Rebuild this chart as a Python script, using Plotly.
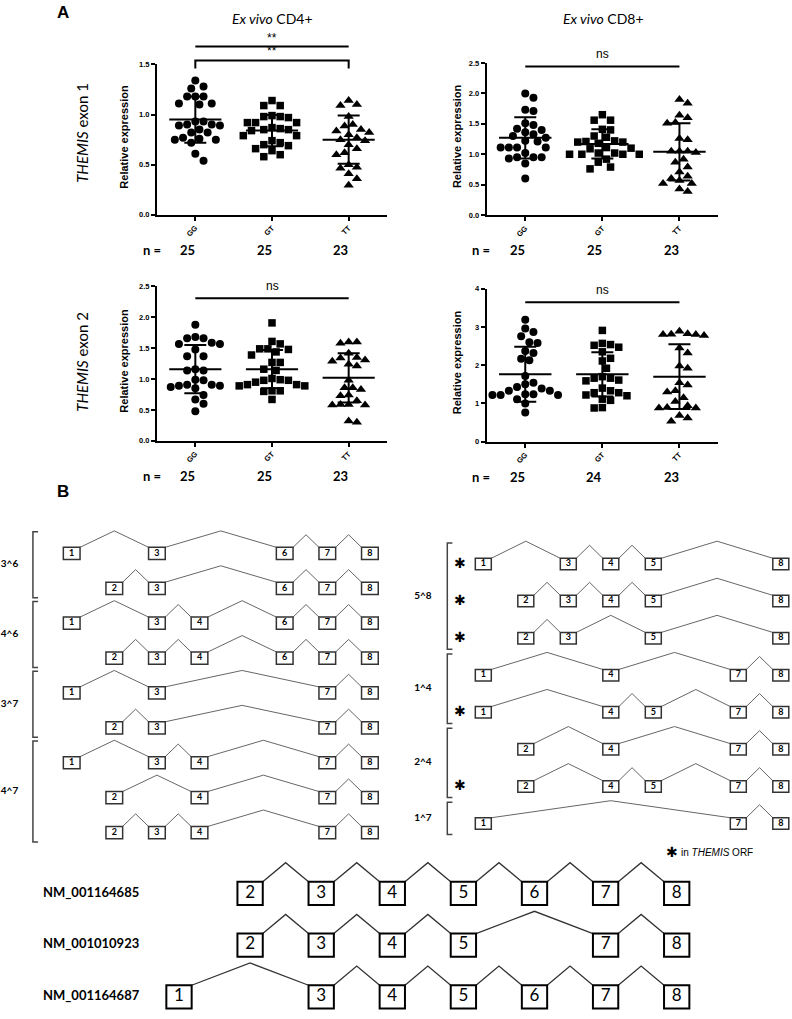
import numpy as np
import plotly.graph_objects as go

W, H = 792, 1019

# ---------------- DATA ----------------
genotypes = ["GG", "GT", "TT"]

cd4_ex1_GG = [1.34, 1.26, 1.28, 1.18, 1.18, 1.18, 1.11, 1.10, 1.11, 0.93, 0.90, 0.93, 0.89,
              0.90, 0.89, 0.82, 0.82, 0.85, 0.77, 0.75, 0.76, 0.72, 0.75, 0.61, 0.54]
cd4_ex1_GT = [1.14, 1.09, 1.09, 0.98, 0.97, 0.98, 0.99, 0.92, 0.92, 0.92, 0.87, 0.85, 0.85,
              0.84, 0.86, 0.79, 0.79, 0.74, 0.72, 0.70, 0.69, 0.66, 0.64, 0.58, 0.60]
cd4_ex1_TT = [1.14, 1.10, 1.09, 0.98, 0.90, 0.885, 0.835, 0.82, 0.85, 0.80, 0.75, 0.74,
              0.70, 0.77, 0.62, 0.60, 0.66, 0.475, 0.465, 0.50, 0.41, 0.36, 0.295]
cd4_ex1_mean = [0.95, 0.84, 0.75]
cd4_ex1_sd = [0.23, 0.155, 0.24]
cd4_ex1_n = [25, 25, 23]

cd8_ex1_GG = [2.00, 1.93, 1.71, 1.73, 1.51, 1.48, 1.40, 1.42, 1.36, 1.33, 1.30, 1.22, 1.21,
              1.11, 1.11, 1.11, 1.11, 0.95, 0.95, 0.93, 0.95, 0.85, 0.60, 1.27, 1.02]
cd8_ex1_GT = [1.65, 1.56, 1.56, 1.40, 1.41, 1.30, 1.28, 1.22, 1.20, 1.18, 1.20, 1.21, 1.11,
              1.09, 1.10, 1.02, 1.00, 1.00, 1.00, 1.00, 1.02, 0.92, 0.87, 0.76, 0.79]
cd8_ex1_TT = [1.90, 1.84, 1.64, 1.60, 1.52, 1.51, 1.26, 1.24, 1.05, 1.05, 1.03, 1.05, 0.92,
              0.79, 0.87, 0.64, 0.71, 0.60, 0.57, 0.52, 0.52, 0.39, 0.43]
cd8_ex1_mean = [1.27, 1.17, 1.04]
cd8_ex1_sd = [0.34, 0.24, 0.47]
cd8_ex1_n = [25, 25, 23]

cd4_ex2_GG = [1.88, 1.68, 1.66, 1.66, 1.59, 1.57, 1.57, 1.48, 1.37, 1.37, 1.14, 1.14, 1.16,
              0.98, 0.99, 0.91, 0.89, 0.87, 0.89, 0.91, 0.85, 0.74, 0.67, 0.60, 0.48]
cd4_ex2_GT = [1.91, 1.61, 1.57, 1.49, 1.44, 1.48, 1.49, 1.39, 1.27, 1.27, 1.14, 1.16, 0.98,
              0.99, 1.01, 0.98, 0.91, 0.89, 0.89, 0.91, 0.81, 0.80, 0.81, 0.67, 0.95]
cd4_ex2_TT = [1.60, 1.58, 1.60, 1.34, 1.29, 1.42, 1.31, 1.35, 1.21, 1.24, 0.98, 0.83, 0.86,
              0.86, 0.73, 0.74, 0.65, 0.58, 0.58, 0.59, 0.59, 0.30, 0.32]
cd4_ex2_mean = [1.16, 1.16, 1.02]
cd4_ex2_sd = [0.39, 0.31, 0.40]
cd4_ex2_n = [25, 25, 23]

cd8_ex2_GG = [3.19, 2.96, 2.87, 2.76, 2.60, 2.58, 2.32, 2.37, 2.13, 2.17, 1.72, 1.54, 1.50,
              1.43, 1.39, 1.33, 1.33, 1.24, 1.22, 1.22, 1.24, 1.22, 1.11, 1.00, 0.76]
cd8_ex2_GT = [2.91, 2.57, 2.52, 2.47, 2.54, 2.35, 2.18, 2.11, 1.92, 1.66, 1.59, 1.61, 1.66,
              1.33, 1.28, 1.28, 1.40, 1.11, 1.20, 1.08, 0.88, 0.89, 1.70, 1.22]
cd8_ex2_TT = [2.82, 2.80, 2.78, 2.80, 2.81, 2.89, 2.32, 1.92, 1.98, 1.54, 1.48, 1.33, 1.30,
              1.15, 0.88, 0.88, 0.89, 0.94, 0.68, 0.62, 0.53, 2.45, 1.05]
cd8_ex2_mean = [1.76, 1.76, 1.70]
cd8_ex2_sd = [0.72, 0.58, 0.85]
cd8_ex2_n = [25, 24, 23]

column_titles = ["<i>Ex vivo</i> CD4+", "<i>Ex vivo</i> CD8+"]
row_titles = ["<i>THEMIS</i> exon 1", "<i>THEMIS</i> exon 2"]

# significance annotations: (from group, to group, height in data units, label, bracket end or None)
cd4_ex1_sig = [(0, 2, 1.678, "**", None), (0, 2, 1.54, "**", 1.46)]
cd8_ex1_sig = [(0, 2, 2.443, "ns", None)]
cd4_ex2_sig = [(0, 2, 2.31, "ns", None)]
cd8_ex2_sig = [(0, 2, 3.65, "ns", None)]

# Panel B: splice variants (exon lists)
left_group_labels = ["3^6", "4^6", "3^7", "4^7"]
left_transcripts = [[1, 3, 6, 7, 8], [2, 3, 6, 7, 8], [1, 3, 4, 6, 7, 8], [2, 3, 4, 6, 7, 8],
                    [1, 3, 7, 8], [2, 3, 7, 8], [1, 3, 4, 7, 8], [2, 4, 7, 8], [2, 3, 4, 7, 8]]
left_group_of = [0, 0, 1, 1, 2, 2, 3, 3, 3]

right_group_labels = ["5^8", "1^4", "2^4", "1^7"]
right_transcripts = [[1, 3, 4, 5, 8], [2, 3, 4, 5, 8], [2, 3, 5, 8], [1, 4, 7, 8],
                     [1, 4, 5, 7, 8], [2, 4, 7, 8], [2, 4, 5, 7, 8], [1, 7, 8]]
right_group_of = [0, 0, 0, 1, 1, 2, 2, 3]
right_in_orf = [True, True, True, False, True, False, True, False]

refseq_names = ["NM_001164685", "NM_001010923", "NM_001164687"]
refseq_exons = [[2, 3, 4, 5, 6, 7, 8], [2, 3, 4, 5, 7, 8], [1, 3, 4, 5, 6, 7, 8]]

# ---------------- STYLE ----------------
AX_FONT = "Liberation Sans, Arial, sans-serif"
HUM_FONT = "Lato, Liberation Sans, sans-serif"
SYM_FONT = "DejaVu Sans, sans-serif"


def dom_x(a, b):
    return [a / W, b / W]


def dom_y(top, bottom):
    return [1 - bottom / H, 1 - top / H]


def swarm_offsets(vals, px_per_y, px_per_x, d=8.2):
    v = np.asarray(vals, float)
    order = np.argsort(-v, kind="stable")
    placed = []
    off = np.zeros(len(v))
    steps = [0.0]
    for m in range(1, 60):
        steps += [m * d / 2, -m * d / 2]
    for i in order:
        yp = v[i] * px_per_y
        for s in steps:
            if all((s - a) ** 2 + (yp - b) ** 2 >= d * d for a, b in placed):
                break
        placed.append((s, yp))
        off[i] = s / px_per_x
    return off


def paper_text(xp, yp, text, font, angle=0):
    return dict(xref="paper", yref="paper", x=xp / W, y=1 - yp / H, xanchor="center",
                yanchor="middle", text=text, showarrow=False, textangle=angle, font=font)


fig = go.Figure()
shapes = []
annotations = []
layout_axes = {}

panels = [
    dict(sets=[cd4_ex1_GG, cd4_ex1_GT, cd4_ex1_TT], mean=cd4_ex1_mean, sd=cd4_ex1_sd,
         n=cd4_ex1_n, sig=cd4_ex1_sig, ymax=1.5, dtick=0.5, fmt=".1f",
         xpx=(157, 387), ypx=(61, 212.7)),
    dict(sets=[cd8_ex1_GG, cd8_ex1_GT, cd8_ex1_TT], mean=cd8_ex1_mean, sd=cd8_ex1_sd,
         n=cd8_ex1_n, sig=cd8_ex1_sig, ymax=2.5, dtick=0.5, fmt=".1f",
         xpx=(486.7, 718), ypx=(59.5, 213)),
    dict(sets=[cd4_ex2_GG, cd4_ex2_GT, cd4_ex2_TT], mean=cd4_ex2_mean, sd=cd4_ex2_sd,
         n=cd4_ex2_n, sig=cd4_ex2_sig, ymax=2.5, dtick=0.5, fmt=".1f",
         xpx=(157, 387), ypx=(285, 440.7)),
    dict(sets=[cd8_ex2_GG, cd8_ex2_GT, cd8_ex2_TT], mean=cd8_ex2_mean, sd=cd8_ex2_sd,
         n=cd8_ex2_n, sig=cd8_ex2_sig, ymax=4, dtick=1, fmt="d",
         xpx=(486.7, 718), ypx=(287.3, 441.5)),
]
symbols = ["circle", "square", "triangle-up"]
sizes = [8, 7.5, 9]

for k, p in enumerate(panels, start=1):
    xa = "x" if k == 1 else f"x{k}"
    ya = "y" if k == 1 else f"y{k}"
    x0, x1 = p["xpx"]
    ytop, ybot = p["ypx"]
    ppx = (x1 - x0) / 3.0
    ppy = (ybot - ytop) / p["ymax"]
    for g, vals in enumerate(p["sets"]):
        offs = swarm_offsets(vals, ppy, ppx)
        fig.add_trace(go.Scatter(
            x=g + offs, y=vals, mode="markers", xaxis=xa, yaxis=ya, cliponaxis=False,
            marker=dict(symbol=symbols[g], size=sizes[g], color="black", line=dict(width=0)),
            hoverinfo="skip"))
    mx, my = [], []
    for g, m in enumerate(p["mean"]):
        mx += [g - 0.34, g + 0.34, None]
        my += [m, m, None]
    fig.add_trace(go.Scatter(x=mx, y=my, mode="lines", xaxis=xa, yaxis=ya,
                             line=dict(color="black", width=2), hoverinfo="skip"))
    fig.add_trace(go.Scatter(
        x=list(range(3)), y=p["mean"], mode="markers", xaxis=xa, yaxis=ya,
        marker=dict(size=1, color="rgba(0,0,0,0)"),
        error_y=dict(type="data", array=p["sd"], color="black", thickness=2, width=11),
        hoverinfo="skip"))

    # significance bars
    for (ga, gb, hval, lab, bend) in p["sig"]:
        yd = hval / p["ymax"]
        if bend is None:
            shapes.append(dict(type="line", xref=xa, yref=f"{ya} domain", x0=ga, x1=gb,
                               y0=yd, y1=yd, line=dict(color="black", width=2)))
        else:
            ye = bend / p["ymax"]
            shapes.append(dict(type="path", xref=xa, yref=f"{ya} domain",
                               path=f"M {ga},{ye} L {ga},{yd} L {gb},{yd} L {gb},{ye}",
                               line=dict(color="black", width=2)))
        annotations.append(dict(xref=xa, yref=f"{ya} domain", x=(ga + gb) / 2, y=yd,
                                xanchor="center", yanchor="bottom", text=lab,
                                showarrow=False, yshift=0 if lab == "**" else 3,
                                font=dict(family=AX_FONT, size=12, color="black")))
    # n = row
    annotations.append(paper_text(x0 + (-0.57 + 0.5) * ppx, ybot + 35.5, "n =",
                                  dict(family=HUM_FONT, size=13, color="black",
                                       weight="bold")))
    for g, nv in enumerate(p["n"]):
        annotations.append(paper_text(x0 + (g + 0.5) * ppx - 8, ybot + 35.5, str(nv),
                                      dict(family=HUM_FONT, size=13, color="black",
                                           weight="bold")))
    axis_common = dict(showline=True, linecolor="black", linewidth=2, showgrid=False,
                       zeroline=False, ticks="outside", ticklen=4, tickwidth=1.5,
                       tickcolor="black", fixedrange=True,
                       tickfont=dict(family=AX_FONT, size=7.5, color="black", weight="bold"))
    layout_axes["xaxis" if k == 1 else f"xaxis{k}"] = dict(
        domain=dom_x(x0, x1), range=[-0.5, 2.5], anchor=ya, tickmode="array",
        tickvals=[0, 1, 2], ticktext=genotypes, tickangle=-45, **axis_common)
    layout_axes["yaxis" if k == 1 else f"yaxis{k}"] = dict(
        domain=dom_y(ytop, ybot), range=[0, p["ymax"]], anchor=xa, dtick=p["dtick"],
        tick0=0, tickformat=p["fmt"], **axis_common)
    # y title
    annotations.append(paper_text(124 if x0 < 300 else 457, (ytop + ybot) / 2 - 3,
                                  "Relative expression",
                                  dict(family=AX_FONT, size=11, color="black", weight="bold"),
                                  angle=-90))

# column / row titles and panel letters
for t, xc in zip(column_titles, [272, 603]):
    annotations.append(paper_text(xc, 15, t, dict(family=HUM_FONT, size=14, color="black")))
for t, yc in zip(row_titles, [130, 361]):
    annotations.append(paper_text(82, yc, t, dict(family=HUM_FONT, size=15, color="black"),
                                  angle=-90))
for lab, yc in [("A", 9), ("B", 492)]:
    annotations.append(paper_text(63, yc, lab,
                                  dict(family=AX_FONT, size=17, color="black", weight="bold")))


# ---------------- Panel B ----------------
def draw_transcripts(xa, ya, transcripts, half_w, half_h, apex_adj, apex_skip,
                     line_color, line_w, box_color, box_w, font):
    lx, ly = [], []
    tx, ty, tt = [], [], []
    for r, exons in enumerate(transcripts):
        top = r - half_h
        for a, b in zip(exons[:-1], exons[1:]):
            apex = apex_adj if b - a == 1 else apex_skip
            lx += [a + half_w, (a + b) / 2, b - half_w, None]
            ly += [top, top - apex, top, None]
        for e in exons:
            shapes.append(dict(type="rect", xref=xa, yref=ya, x0=e - half_w, x1=e + half_w,
                               y0=r - half_h, y1=r + half_h,
                               line=dict(color=box_color, width=box_w)))
            tx.append(e)
            ty.append(r)
            tt.append(str(e))
    fig.add_trace(go.Scatter(x=lx, y=ly, mode="lines", xaxis=xa, yaxis=ya,
                             line=dict(color=line_color, width=line_w), hoverinfo="skip"))
    fig.add_trace(go.Scatter(x=tx, y=ty, mode="text", text=tt, xaxis=xa, yaxis=ya,
                             textposition="middle center", textfont=font, hoverinfo="skip",
                             cliponaxis=False))


def draw_brackets(xa, ya, group_of, labels, bx, tick, above, below, lab_x):
    for gi, lab in enumerate(labels):
        rows = [r for r, g in enumerate(group_of) if g == gi]
        y0 = rows[0] - above
        y1 = rows[-1] + below
        shapes.append(dict(type="path", xref=xa, yref=ya,
                           path=f"M {bx + tick},{y0} L {bx},{y0} L {bx},{y1} L {bx + tick},{y1}",
                           line=dict(color="#444", width=1.5)))
        fig.add_trace(go.Scatter(x=[lab_x], y=[(y0 + y1) / 2], mode="text", text=[lab],
                                 xaxis=xa, yaxis=ya, textposition="middle center",
                                 cliponaxis=False, hoverinfo="skip",
                                 textfont=dict(family=HUM_FONT, size=10, color="black",
                                               weight="bold")))


small_font = dict(family=HUM_FONT, size=9, color="black", weight="bold")

# left column (axis 5)
draw_transcripts("x5", "y5", left_transcripts, 0.196, 0.175, 0.36, 0.47,
                 "#666", 1, "#333", 1.5, small_font)
draw_brackets("x5", "y5", left_group_of, left_group_labels, 0.09, 0.12, 0.62, 0.27, -0.46)

# right column (axis 6)
draw_transcripts("x6", "y6", right_transcripts, 0.188, 0.155, 0.35, 0.46,
                 "#666", 1, "#333", 1.5, small_font)
draw_brackets("x6", "y6", right_group_of, right_group_labels, 0.153, 0.12, 0.57, 0.30, -0.42)
orf_rows = [r for r, f in enumerate(right_in_orf) if f]
fig.add_trace(go.Scatter(x=[0.45] * len(orf_rows), y=orf_rows, mode="text",
                         text=["✱"] * len(orf_rows), xaxis="x6", yaxis="y6",
                         textposition="middle center", cliponaxis=False, hoverinfo="skip",
                         textfont=dict(family=SYM_FONT, size=14, color="black")))

# RefSeq transcripts (axis 7)
draw_transcripts("x7", "y7", refseq_exons, 0.178, 0.224, 0.37, 0.43,
                 "#333", 1.3, "black", 2, dict(family=HUM_FONT, size=17, color="black"))
fig.add_trace(go.Scatter(x=[-0.913] * len(refseq_names), y=list(range(len(refseq_names))),
                         mode="text", text=refseq_names, xaxis="x7", yaxis="y7",
                         textposition="middle right", cliponaxis=False, hoverinfo="skip",
                         textfont=dict(family=HUM_FONT, size=13, color="black",
                                       weight="bold")))

# legend for asterisk
annotations.append(dict(xref="paper", yref="paper", x=664 / W, y=1 - 856 / H, xanchor="left",
                        yanchor="middle", text="✱", showarrow=False,
                        font=dict(family=SYM_FONT, size=14, color="black")))
annotations.append(dict(xref="paper", yref="paper", x=679 / W, y=1 - 856 / H, xanchor="left",
                        yanchor="middle", text="in <i>THEMIS</i> ORF", showarrow=False,
                        font=dict(family=AX_FONT, size=10, color="black")))

hidden = dict(visible=False, fixedrange=True, showgrid=False, zeroline=False)
layout_axes["xaxis5"] = dict(domain=[0, 396 / W], range=[1 - 71.7 / 42.6, 1 + (396 - 71.7) / 42.6],
                             anchor="y5", **hidden)
layout_axes["yaxis5"] = dict(domain=dom_y(520, 860),
                             range=[(860 - 554.3) / 35.2, (520 - 554.3) / 35.2],
                             anchor="x5", **hidden)
layout_axes["xaxis6"] = dict(domain=[400 / W, 1],
                             range=[1 + (400 - 483.3) / 42.5, 1 + (792 - 483.3) / 42.5],
                             anchor="y6", **hidden)
layout_axes["yaxis6"] = dict(domain=dom_y(520, 860),
                             range=[(860 - 565) / 37.4, (520 - 565) / 37.4],
                             anchor="x6", **hidden)
layout_axes["xaxis7"] = dict(domain=[0, 1], range=[1 - 179 / 71.1, 1 + (792 - 179) / 71.1],
                             anchor="y7", **hidden)
layout_axes["yaxis7"] = dict(domain=dom_y(850, 1019),
                             range=[(1019 - 897.3) / 52.2, (850 - 897.3) / 52.2],
                             anchor="x7", **hidden)

fig.update_layout(
    width=W, height=H, autosize=False, margin=dict(l=0, r=0, t=0, b=0),
    paper_bgcolor="white", plot_bgcolor="rgba(0,0,0,0)", showlegend=False,
    shapes=shapes, annotations=annotations, **layout_axes)

fig.write_html("out.html", config={"displayModeBar": False},
               post_script="document.body.style.margin='0px';document.body.style.padding='0px';")
